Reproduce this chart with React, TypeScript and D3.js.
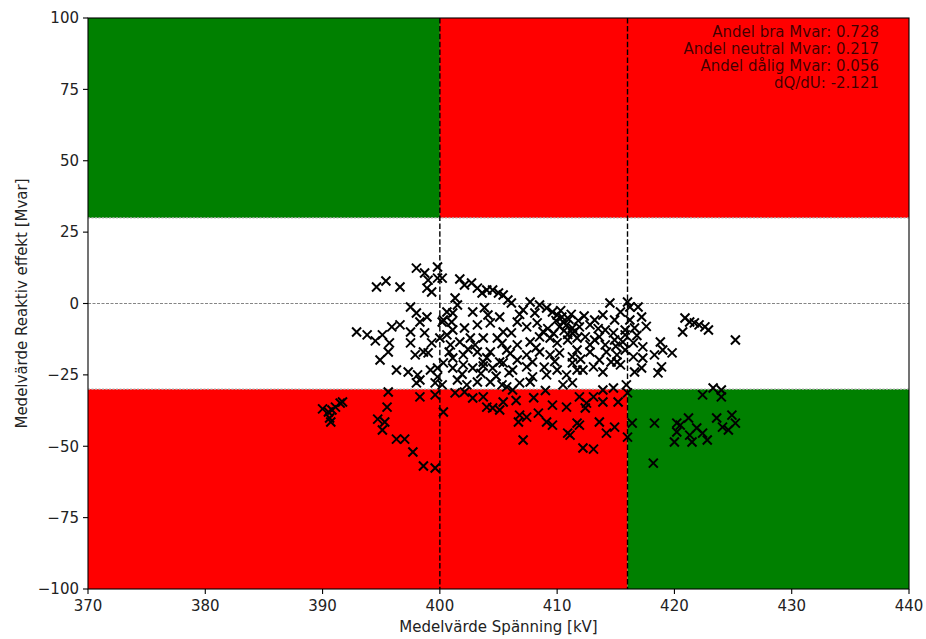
import React from 'react';
import * as d3 from 'd3';

// [kV, Mvar] pairs, grouped roughly by where they sit
const lowLeftPts: [number, number][] = [
  [390.0, -36.9], [390.5, -38.0], [390.8, -37.3], [391.1, -36.3], [391.5, -34.9], [391.7, -34.5],
  [390.6, -40.1], [390.7, -41.5],
  [395.6, -31.0], [395.5, -36.3], [394.7, -40.5], [395.3, -41.5], [395.1, -44.3], [396.3, -47.5],
  [397.0, -47.5], [397.7, -52.0], [398.6, -56.9], [399.6, -57.6], [398.3, -32.7], [399.6, -32.0],
  [400.3, -38.0],
];

const leftClusterPts: [number, number][] = [
  [394.6, 5.8], [395.4, 7.9], [396.6, 5.8], [398.0, 12.4], [398.7, 10.7], [399.0, 8.2], [399.8, 12.8],
  [399.8, 8.9], [398.9, 5.4], [399.3, 4.0],
  [392.9, -10.0], [393.8, -11.0], [394.5, -13.1], [395.1, -11.0], [395.9, -8.2], [396.6, -7.5],
  [395.7, -13.8], [395.6, -17.0], [394.9, -19.8], [397.5, -1.2], [398.0, -3.3], [398.3, -6.5],
  [398.9, -4.7], [397.5, -10.0], [397.5, -13.8], [397.9, -18.0], [398.6, -17.0], [398.7, -10.3],
  [399.3, -13.8], [399.0, -17.3], [400.2, -6.5], [400.0, -12.1],
  [396.3, -23.3], [397.3, -24.0], [398.1, -25.0], [398.0, -27.8], [398.3, -26.8], [399.2, -23.3],
  [399.8, -22.6], [399.8, -25.7], [399.6, -27.8], [400.2, -28.5],
];

const midUpperPts: [number, number][] = [
  [400.2, 8.9], [401.7, 8.6], [402.1, 6.5], [402.7, 7.2], [403.2, 5.4], [403.6, 3.7], [404.0, 4.7],
  [404.5, 4.7], [405.0, 3.7], [405.4, 3.0], [405.8, 1.2], [406.1, 0.2], [401.3, 1.9], [401.5, -0.5],
  [401.1, -3.3], [400.6, -3.0], [400.3, -5.8], [404.1, -4.0], [405.1, -4.7], [404.3, -6.8],
  [403.2, -7.5], [402.1, -8.6], [401.1, -9.3], [400.6, -11.0], [407.7, 0.5], [407.1, -2.3],
  [408.1, -3.3], [408.5, -0.5], [409.1, -1.6], [409.6, -3.0], [410.0, -4.0], [410.4, -4.7],
  [410.5, -6.5], [410.8, -7.5], [410.2, -8.2], [411.3, -8.6], [406.6, -6.5], [407.4, -8.2],
  [408.3, -6.8], [406.1, -10.3], [405.4, -10.0], [404.9, -12.1], [403.7, -12.1], [402.6, -12.1],
  [401.7, -13.5], [400.9, -14.5], [406.6, -14.5], [407.7, -13.5], [408.5, -11.7], [409.4, -12.1],
  [410.0, -13.8], [410.9, -12.8], [411.7, -12.1], [405.7, -16.3], [404.3, -17.0], [403.2, -17.0],
  [402.0, -18.0], [401.1, -19.1], [407.4, -18.0], [408.5, -17.0], [409.4, -18.0], [410.2, -17.3],
  [411.3, -18.7], [406.6, -19.8], [405.1, -20.5], [403.7, -20.5], [410.6, -9.5], [411.0, -5.5],
  [409.9, -6.0], [410.3, -2.5], [411.2, -3.8], [411.8, -6.0], [410.9, -10.8], [411.5, -9.8],
  [409.2, -8.8], [408.8, -9.9], [409.7, -10.5], [404.0, -19.0], [406.0, -17.5], [408.2, -15.5],
  [405.3, -14.0], [403.0, -14.5], [402.4, -16.0], [400.8, -17.0], [401.0, -6.5], [402.8, -3.0],
  [403.8, -1.5], [406.8, -3.8],
];

const midLowerPts: [number, number][] = [
  [400.3, -20.8], [401.1, -22.6], [402.0, -21.5], [402.8, -22.6], [403.7, -21.9], [404.5, -22.6],
  [405.4, -20.8], [406.2, -23.3], [407.4, -22.2], [407.9, -25.7], [409.1, -25.0], [410.0, -23.3],
  [410.8, -25.0], [411.7, -23.3], [401.5, -26.8], [402.3, -28.5], [403.2, -27.5], [404.3, -27.5],
  [405.3, -28.5], [405.7, -29.2], [406.2, -30.3], [406.8, -27.8], [407.7, -27.5], [401.3, -31.3],
  [402.1, -31.0], [402.8, -33.1], [403.7, -32.7], [404.0, -36.3], [404.5, -36.6], [405.1, -37.3],
  [405.4, -34.5], [406.8, -39.1], [406.7, -41.5], [407.4, -39.8], [408.4, -38.4], [409.1, -41.5],
  [409.6, -42.6], [409.6, -35.6], [410.8, -36.3], [410.9, -45.4], [407.1, -47.8], [411.7, -41.9],
  [404.8, -25.5], [405.9, -24.2], [403.5, -24.5], [407.9, -20.5], [408.9, -22.3], [409.8, -20.3],
  [401.9, -24.8], [410.5, -28.5], [409.0, -30.5], [408.0, -33.0], [406.5, -34.0],
];

const rightClusterPts: [number, number][] = [
  [414.5, 0.2], [416.0, 0.5], [416.2, -1.2], [416.9, -1.2], [417.2, -4.7], [413.9, -4.0], [415.4, -3.0],
  [416.6, -8.6], [412.8, -7.5], [411.9, -8.2], [411.3, -10.3], [412.4, -11.7], [413.6, -11.7],
  [414.8, -10.3], [415.6, -13.5], [416.5, -13.8], [417.3, -15.2], [418.8, -13.5], [419.0, -16.3],
  [419.8, -17.3], [418.3, -18.0], [420.9, -5.1], [421.3, -6.5], [421.7, -6.8], [422.1, -7.5],
  [422.6, -8.2], [422.9, -9.3], [420.7, -10.0], [425.2, -12.8], [411.7, -16.3], [412.8, -17.0],
  [414.2, -17.0], [415.1, -18.0], [416.5, -18.7], [417.3, -19.1], [413.2, -5.8], [414.1, -9.3],
  [414.9, -5.8], [415.8, -9.3], [413.2, -12.8], [414.1, -14.5], [414.9, -12.8], [415.8, -11.0],
  [415.8, -16.3], [412.8, -14.5], [413.6, -19.8], [414.6, -20.5], [415.4, -21.5],
  [412.3, -4.4], [413.5, -8.8], [415.0, -15.0], [416.2, -5.8], [416.8, -11.2], [417.6, -8.0],
  [412.0, -19.5],
  [411.3, -20.8], [412.2, -23.3], [413.1, -22.2], [413.9, -24.0], [415.1, -20.5], [416.6, -24.0],
  [417.2, -22.6], [418.6, -24.3], [418.9, -22.2],
  [411.3, -27.8], [413.9, -30.3], [414.8, -29.6], [415.9, -28.5], [416.0, -31.3],
  [411.9, -32.7], [412.5, -34.9], [412.4, -36.6], [413.1, -32.7], [413.9, -34.5], [415.2, -34.5],
  [411.1, -46.1], [411.9, -42.6], [413.6, -41.5], [414.2, -45.4], [414.9, -43.3], [412.2, -50.6],
  [413.1, -51.0], [416.4, -41.9], [416.0, -46.8],
];

const greenLowPts: [number, number][] = [
  [418.2, -55.9], [418.3, -41.9], [420.2, -41.9], [420.5, -42.6], [420.2, -45.0], [420.0, -48.5],
  [421.2, -40.1], [421.5, -48.5], [421.9, -43.6], [422.4, -45.4], [422.8, -47.8], [423.6, -40.1],
  [424.1, -43.3], [424.6, -44.3], [424.9, -39.1], [425.2, -41.9], [422.4, -32.0], [423.3, -29.6],
  [424.0, -30.3], [424.0, -32.7], [421.3, -46.1],
];

const allPts = [...lowLeftPts, ...leftClusterPts, ...midUpperPts, ...midLowerPts, ...rightClusterPts, ...greenLowPts];

const voltLimits = [400, 416];
const mvarLimits = [-30, 30];
const xTicks = [370, 380, 390, 400, 410, 420, 430, 440];
const yTicks = [-100, -75, -50, -25, 0, 25, 50, 75, 100];
const statLines = [
  'Andel bra Mvar: 0.728',
  'Andel neutral Mvar: 0.217',
  'Andel dålig Mvar: 0.056',
  'dQ/dU: -2.121',
];

const W = 926;
const H = 639;
const m = { left: 88, right: 17, top: 18, bottom: 50 };
const font = '"DejaVu Sans", sans-serif';
const GREEN = '#008000';
const RED = '#ff0000';

export default function App() {
  const x = d3.scaleLinear().domain([370, 440]).range([m.left, W - m.right]);
  const y = d3.scaleLinear().domain([-100, 100]).range([H - m.bottom, m.top]);
  const [x0, x1] = x.range();
  const [yb, yt] = y.range();
  const fmt = (v: number) => String(v).replace('-', '\u2212');
  const r = 4.5;

  // quadrant fills: [x from, x to, y from, y to, colour]
  const fills: [number, number, number, number, string][] = [
    [370, voltLimits[0], mvarLimits[1], 100, GREEN],
    [voltLimits[0], 440, mvarLimits[1], 100, RED],
    [370, voltLimits[1], -100, mvarLimits[0], RED],
    [voltLimits[1], 440, -100, mvarLimits[0], GREEN],
  ];

  return (
    <svg width={W} height={H} style={{ position: 'absolute', left: 0, top: 0, background: '#fff' }}
      fontFamily={font}>
      {fills.map(([a, b, c, d, col], i) => (
        <rect key={i} x={x(a)} y={y(d)} width={x(b) - x(a)} height={y(c) - y(d)} fill={col} />
      ))}
      {mvarLimits.map((v) => (
        <line key={v} x1={x0} x2={x1} y1={y(v)} y2={y(v)} stroke="#b0b0b0" strokeWidth={1.2}
          strokeDasharray="2,1.5" />
      ))}
      <line x1={x0} x2={x1} y1={y(0)} y2={y(0)} stroke="#666" strokeWidth={0.8} strokeDasharray="3,1.5" />
      {voltLimits.map((v) => (
        <line key={v} x1={x(v)} x2={x(v)} y1={yt} y2={yb} stroke="#000" strokeWidth={1.4}
          strokeDasharray="5.5,2.4" />
      ))}
      <g stroke="#000" strokeWidth={2} fill="none">
        {allPts.map(([vx, vy], i) => {
          const px = x(vx), py = y(vy);
          return <path key={i} d={`M${px - r},${py - r}L${px + r},${py + r}M${px - r},${py + r}L${px + r},${py - r}`} />;
        })}
      </g>
      <rect x={x0} y={yt} width={x1 - x0} height={yb - yt} fill="none" stroke="#000" strokeWidth={1.1} />
      {xTicks.map((t) => (
        <g key={t} transform={`translate(${x(t)},${yb})`}>
          <line y2={5} stroke="#000" strokeWidth={1.1} />
          <text y={22} textAnchor="middle" fontSize={15} fill="#222">{t}</text>
        </g>
      ))}
      {yTicks.map((t) => (
        <g key={t} transform={`translate(${x0},${y(t)})`}>
          <line x2={-5} stroke="#000" strokeWidth={1.1} />
          <text x={-9} dy="0.35em" textAnchor="end" fontSize={15} fill="#222">{fmt(t)}</text>
        </g>
      ))}
      <text x={(x0 + x1) / 2} y={632} textAnchor="middle" fontSize={15} fill="#222">
        Medelvärde Spänning [kV]
      </text>
      <text transform={`translate(27,${(yt + yb) / 2}) rotate(-90)`} textAnchor="middle" fontSize={15}
        fill="#222">
        Medelvärde Reaktiv effekt [Mvar]
      </text>
      {statLines.map((s, i) => (
        <text key={i} x={879} y={37 + i * 17} textAnchor="end" fontSize={15} fill="#000" fillOpacity={0.75}>
          {s}
        </text>
      ))}
    </svg>
  );
}
